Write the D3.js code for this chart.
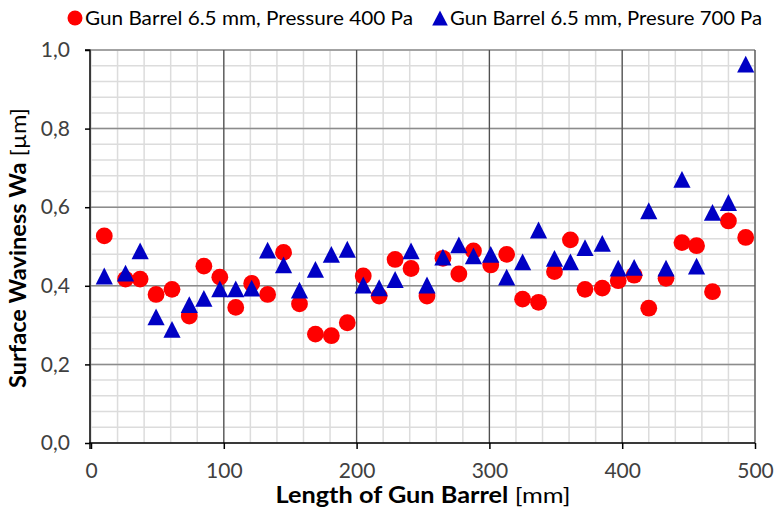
<!DOCTYPE html>
<html>
<head>
<meta charset="utf-8">
<script src="https://cdn.jsdelivr.net/npm/d3@7"></script>
<style>
  body { margin: 0; background: #fff; }
  svg { display: block; }
  text { font-family: Lato, "Open Sans", sans-serif; }
</style>
</head>
<body>
<svg id="chart" width="776" height="513"></svg>
<script>
// Measurement positions along the barrel (mm)
const lengthsMm = [10, 26, 37, 49, 61, 74, 85, 97, 109, 121, 133, 145, 157, 169, 181, 193, 205, 217, 229, 241, 253,
                   265, 277, 288, 301, 313, 325, 337, 349, 361, 372, 385, 397, 409, 420, 433, 445, 456, 468, 480, 493];
// Surface waviness Wa (µm), 400 Pa
const wavinessP400 = [0.527, 0.417, 0.417, 0.378, 0.391, 0.323, 0.450, 0.422, 0.345, 0.406, 0.378, 0.485, 0.354, 0.277,
                      0.273, 0.306, 0.425, 0.374, 0.467, 0.444, 0.374, 0.470, 0.430, 0.489, 0.453, 0.480, 0.366, 0.358,
                      0.436, 0.517, 0.391, 0.394, 0.413, 0.427, 0.343, 0.419, 0.510, 0.502, 0.385, 0.565, 0.523];
// Surface waviness Wa (µm), 700 Pa
const wavinessP700 = [0.425, 0.432, 0.489, 0.321, 0.289, 0.352, 0.368, 0.392, 0.392, 0.394, 0.491, 0.453, 0.389, 0.442,
                      0.480, 0.493, 0.402, 0.395, 0.416, 0.489, 0.402, 0.473, 0.504, 0.476, 0.480, 0.422, 0.461, 0.542,
                      0.470, 0.461, 0.497, 0.508, 0.445, 0.447, 0.591, 0.445, 0.671, 0.450, 0.587, 0.612, 0.964];
const seriesNames = ["Gun Barrel 6.5 mm, Pressure 400 Pa", "Gun Barrel 6.5 mm, Presure 700 Pa"];
const xTicks = [0, 100, 200, 300, 400, 500];
const yTicks = [0, 0.2, 0.4, 0.6, 0.8, 1.0];
const xMinor = d3.range(0, 501, 20);
const yMinor = d3.range(0, 1.0001, 0.04);

const svg = d3.select("#chart");
const x = d3.scaleLinear().domain([0, 500]).range([91, 755]);
const y = d3.scaleLinear().domain([0, 1]).range([443, 50]);

const RED = "#ff0000", BLUE = "#0000c4";

// Grid: minor lines first, then major
const grid = svg.append("g");
grid.selectAll(".vmin").data(xMinor).join("line")
  .attr("x1", d => x(d)).attr("x2", d => x(d)).attr("y1", y(0)).attr("y2", y(1))
  .attr("stroke", "#dcdcdc").attr("stroke-width", 1.5);
grid.selectAll(".hmin").data(yMinor).join("line")
  .attr("x1", x(0)).attr("x2", x(500)).attr("y1", d => y(d)).attr("y2", d => y(d))
  .attr("stroke", "#dcdcdc").attr("stroke-width", 1.5);
grid.selectAll(".hmaj").data(yTicks.slice(1)).join("line")
  .attr("x1", x(0)).attr("x2", x(500)).attr("y1", d => y(d)).attr("y2", d => y(d))
  .attr("stroke", "#8c8c8c").attr("stroke-width", 1.5);
grid.selectAll(".vmaj").data(xTicks.slice(1)).join("line")
  .attr("x1", d => x(d)).attr("x2", d => x(d)).attr("y1", y(0)).attr("y2", y(1))
  .attr("stroke", "#505050").attr("stroke-width", 1.3);

// Axes
const fmtY = v => d3.format(".1f")(v).replace(".", ",");
const yAxis = svg.append("g").attr("transform", `translate(${x(0) - 1},0)`)
  .call(d3.axisLeft(y).tickValues(yTicks).tickFormat(fmtY).tickSize(5).tickPadding(15));
const xAxis = svg.append("g").attr("transform", `translate(0,${y(0)})`)
  .call(d3.axisBottom(x).tickValues(xTicks).tickFormat(d3.format("d")).tickSize(6).tickPadding(14));
[yAxis, xAxis].forEach(a => {
  a.select(".domain").attr("stroke", "#000").attr("stroke-width", 1.5);
  a.selectAll(".tick line").attr("stroke", "#000").attr("stroke-width", 1.5);
  a.selectAll(".tick text").attr("fill", "#404040").style("font-size", "21px");
});
yAxis.select(".domain").attr("d", `M-5,${y(1)}H0V${y(0)}`);
xAxis.select(".domain").attr("d", `M${x(0) - 1},6V0H${x(500)}`);

// Markers
const triPath = "M0,-8.4L8.6,8.4L-8.6,8.4Z";
svg.append("g").selectAll("circle").data(lengthsMm).join("circle")
  .attr("cx", d => x(d)).attr("cy", (d, i) => y(wavinessP400[i])).attr("r", 8.4)
  .attr("fill", RED);
svg.append("g").selectAll("path").data(lengthsMm).join("path")
  .attr("d", triPath)
  .attr("transform", (d, i) => `translate(${x(d)},${y(wavinessP700[i])})`)
  .attr("fill", BLUE);

// Axis titles
const yt = svg.append("text")
  .attr("transform", `translate(26,248) rotate(-90)`)
  .attr("text-anchor", "middle").style("font-size", "22px").attr("fill", "#000")
  .attr("textLength", 280).attr("lengthAdjust", "spacingAndGlyphs");
yt.append("tspan").attr("font-weight", "bold").text("Surface Waviness Wa");
yt.append("tspan").text(" [µm]");

const xt = svg.append("text")
  .attr("x", 423).attr("y", 503)
  .attr("text-anchor", "middle").style("font-size", "22px").attr("fill", "#000")
  .attr("textLength", 295).attr("lengthAdjust", "spacingAndGlyphs");
xt.append("tspan").attr("font-weight", "bold").text("Length of Gun Barrel");
xt.append("tspan").text(" [mm]");

// Legend
const legend = svg.append("g");
legend.append("circle").attr("cx", 75).attr("cy", 18).attr("r", 7.5).attr("fill", RED);
legend.append("text").attr("x", 85).attr("y", 25).style("font-size", "20px").attr("fill", "#000")
  .attr("textLength", 328).attr("lengthAdjust", "spacingAndGlyphs")
  .text(seriesNames[0]);
legend.append("path").attr("d", "M0,-7.5L7.8,7.5L-7.8,7.5Z").attr("transform", "translate(440,18)").attr("fill", BLUE);
legend.append("text").attr("x", 450).attr("y", 25).style("font-size", "20px").attr("fill", "#000")
  .attr("textLength", 312).attr("lengthAdjust", "spacingAndGlyphs")
  .text(seriesNames[1]);
</script>
</body>
</html>
